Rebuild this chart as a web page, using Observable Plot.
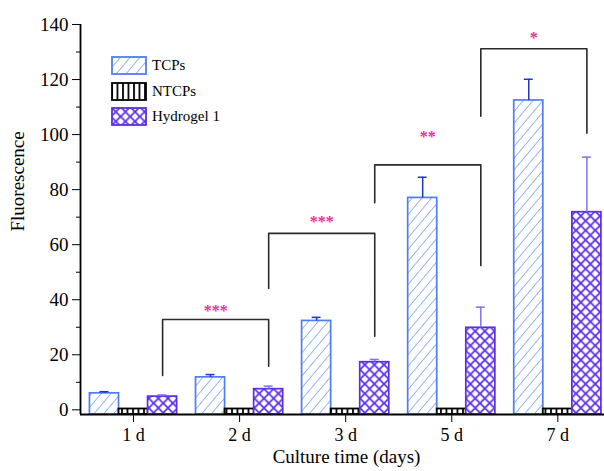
<!DOCTYPE html>
<html><head><meta charset="utf-8">
<script src="https://cdn.jsdelivr.net/npm/d3@7"></script>
<script src="https://cdn.jsdelivr.net/npm/@observablehq/plot@0.6"></script>
<style>
body{margin:0;background:#fff;}
#wrap{position:relative;width:604px;height:471px;overflow:hidden;}
#legend{position:absolute;left:111px;top:53px;font-family:"Liberation Serif","Times New Roman",serif;font-size:15px;color:#000;}
#legend .row{display:flex;align-items:center;height:25.5px;}
#legend span{font-family:"Liberation Serif","Times New Roman",serif;}
#legend svg{margin-right:5px;}
</style></head><body><div id="wrap"><div id="legend"></div></div>
<script>
// ---- data ----
const days = ["1 d", "2 d", "3 d", "5 d", "7 d"];
const seriesNames = ["TCPs", "NTCPs", "Hydrogel 1"];
const tcps = [6.0, 11.8, 32.3, 77.0, 112.4];
const tcpsErr = [0.6, 1.0, 1.3, 7.5, 7.7];
const ntcps = [0.3, 0.3, 0.3, 0.3, 0.3];
const ntcpsErr = [0, 0, 0, 0, 0];
const hydrogel = [4.8, 7.5, 17.3, 29.8, 71.8];
const hydrogelErr = [0.6, 1.1, 1.0, 7.5, 20.0];
const yTicks = [0, 20, 40, 60, 80, 100, 120, 140];
const yMinorTicks = [10, 30, 50, 70, 90, 110, 130];
// significance brackets (between Hydrogel 1 bars of consecutive days)
const bracketFrom = [0, 1, 2, 3];
const bracketTo = [1, 2, 3, 4];
const bracketLevel = [32.8, 64.1, 89.0, 131.2];
const bracketLeftEnd = [12.5, 44.1, 75.2, 106.7];
const bracketRightEnd = [15.8, 26.7, 52.4, 100.5];
const bracketLabel = ["***", "***", "**", "*"];
const bracketLabelY = [36.1, 68.2, 99.3, 135];

// ---- styles ----
const yMin = -1.7, yMax = 140;
const bw = 0.274; // bar width in band units
const seriesFill = ["url(#pTCP)", "url(#pNTCP)", "url(#pHyd)"];
const seriesStroke = ["#4f7df5", "#000000", "#5b2fe0"];
const errStroke = ["#1f35c4", "#000000", "#7a74f2"];
const starColor = "#e0359a";

const values = [tcps, ntcps, hydrogel];
const errs = [tcpsErr, ntcpsErr, hydrogelErr];
const bars = [];
seriesNames.forEach((s, k) => days.forEach((d, i) => {
  const x1 = i + (k - 1.5) * bw;
  bars.push({series: k, day: i, x1, x2: x1 + bw, xc: x1 + bw / 2, y: values[k][i], top: values[k][i] + errs[k][i], err: errs[k][i]});
}));
const errBars = bars.filter(b => b.err > 0);

const xh = i => i + bw; // hydrogel bar centre
const bracketPts = [];
bracketFrom.forEach((f, j) => {
  const t = bracketTo[j];
  bracketPts.push({g: j, x: xh(f), y: bracketLeftEnd[j]});
  bracketPts.push({g: j, x: xh(f), y: bracketLevel[j]});
  bracketPts.push({g: j, x: xh(t), y: bracketLevel[j]});
  bracketPts.push({g: j, x: xh(t), y: bracketRightEnd[j]});
});
const stars = bracketFrom.map((f, j) => ({x: (xh(f) + xh(bracketTo[j])) / 2, y: bracketLabelY[j], t: bracketLabel[j]}));

const marks = [];
seriesNames.forEach((s, k) => {
  const d = bars.filter(b => b.series === k);
  marks.push(Plot.rectY(d, {x1: "x1", x2: "x2", y1: yMin, y2: "y", fill: seriesFill[k], stroke: seriesStroke[k], strokeWidth: k === 1 ? 1.8 : 1.7}));
});
seriesNames.forEach((s, k) => {
  const d = errBars.filter(b => b.series === k);
  marks.push(Plot.ruleX(d, {x: "xc", y1: "y", y2: "top", stroke: errStroke[k], strokeWidth: 1.5}));
  marks.push(Plot.ruleY(d, {y: "top", x1: b => b.xc - 0.042, x2: b => b.xc + 0.042, stroke: errStroke[k], strokeWidth: 1.5}));
});
marks.push(Plot.line(bracketPts, {x: "x", y: "y", z: "g", stroke: "#2a2a2a", strokeWidth: 1.6, curve: "linear"}));
marks.push(Plot.text(stars, {x: "x", y: "y", text: "t", fill: starColor, fontSize: 16, fontWeight: "bold"}));
marks.push(Plot.axisY(yTicks, {tickSize: 8, tickPadding: 4, fontSize: 19, label: null}));
marks.push(Plot.axisY(yMinorTicks, {tickSize: 4, text: null, label: null}));
marks.push(Plot.axisX(d3.range(days.length), {tickSize: 8, tickPadding: 6, fontSize: 18, tickFormat: i => days[i], label: null}));
marks.push(Plot.ruleX([yMin].map(() => -0.5), {stroke: "#000", strokeWidth: 1.8}));
marks.push(Plot.ruleY([yMin], {stroke: "#000", strokeWidth: 1.8}));
marks.push(Plot.text(["Fluorescence"], {frameAnchor: "left", rotate: -90, dx: -63, dy: 12, fontSize: 19}));
marks.push(Plot.text(["Culture time (days)"], {frameAnchor: "bottom", dy: 48, dx: 4, fontSize: 19}));

const chart = Plot.plot({
  width: 604, height: 471,
  marginLeft: 80, marginRight: 0, marginTop: 24, marginBottom: 57,
  x: {type: "linear", domain: [-0.5, 4.44]},
  y: {domain: [yMin, yMax]},
  style: {fontFamily: "'Liberation Serif', serif", color: "#000", background: "#fff", overflow: "visible"},
  marks
});

d3.select(chart).insert("defs", ":first-child").html(`
  <pattern id="pTCP" patternUnits="userSpaceOnUse" width="7.5" height="7.5" patternTransform="rotate(40)">
    <rect width="7.5" height="7.5" fill="#fff"/>
    <line x1="0" y1="-1" x2="0" y2="9" stroke="#7ea5f2" stroke-width="1.6"/>
  </pattern>
  <pattern id="pNTCP" patternUnits="userSpaceOnUse" width="5.5" height="10">
    <rect width="5.5" height="10" fill="#fff"/>
    <line x1="1" y1="0" x2="1" y2="10" stroke="#000" stroke-width="1.8"/>
  </pattern>
  <pattern id="pHyd" patternUnits="userSpaceOnUse" width="9.6" height="9.6">
    <rect width="9.6" height="9.6" fill="#fff"/>
    <path d="M-1,-1 L10.6,10.6 M-1,10.6 L10.6,-1" stroke="#5d32ec" stroke-width="1.8"/>
  </pattern>`);
document.getElementById("wrap").prepend(chart);

// legend
const lg = d3.select("#legend");
seriesNames.forEach((s, k) => {
  const row = lg.append("div").attr("class", "row");
  const sv = row.append("svg").attr("width", 36).attr("height", 19);
  sv.append("rect").attr("x", 1).attr("y", 1).attr("width", 34).attr("height", 17)
    .attr("fill", seriesFill[k]).attr("stroke", seriesStroke[k]).attr("stroke-width", 1.8);
  row.append("span").text(s);
});
</script></body></html>
